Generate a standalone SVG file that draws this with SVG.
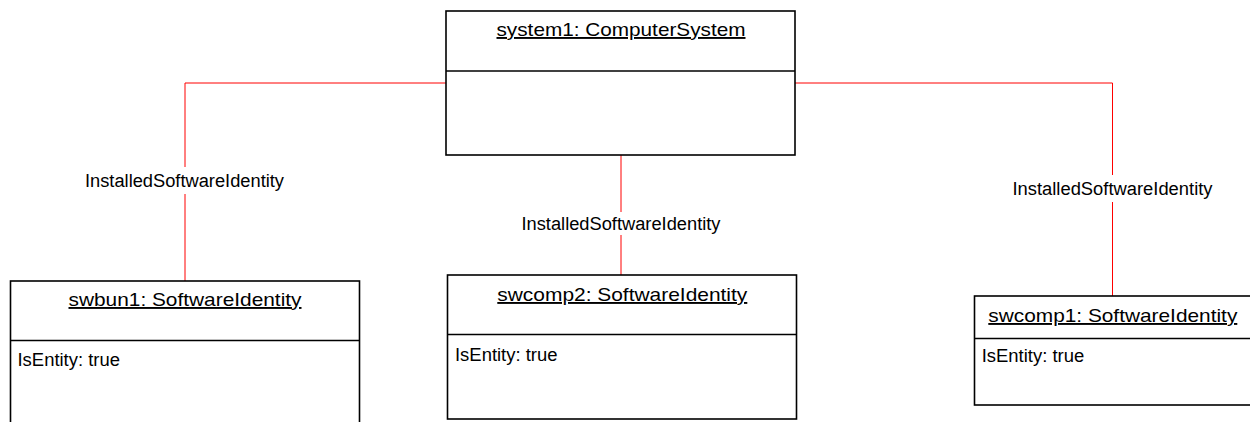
<svg xmlns="http://www.w3.org/2000/svg" width="1250" height="422" viewBox="0 0 1250 422">
<style>
.box{fill:#fff;stroke:#000;stroke-width:1.6}
.div{stroke:#000;stroke-width:1.6}
.title{font-family:"Liberation Sans",Arial,sans-serif;font-size:19px;text-decoration:underline;fill:#000}
.attr{font-family:"Liberation Sans",Arial,sans-serif;font-size:18px;fill:#000}
.conn{fill:none;stroke:#ff0000;stroke-width:1}
.lbl{font-family:"Liberation Sans",Arial,sans-serif;font-size:18px;fill:#000}
.bg{fill:#fff}
</style>
<rect width="1250" height="422" fill="#fff"/>
<g id="connectors">
<polyline class="conn" points="446,83 185,83 185,281"/>
<polyline class="conn" points="795,83 1112.5,83 1112.5,296"/>
<line class="conn" x1="621" y1="155" x2="621" y2="275"/>
<rect class="bg" x="84" y="167" width="201" height="27"/>
<text class="lbl" x="184.5" y="187" text-anchor="middle" textLength="199" lengthAdjust="spacingAndGlyphs">InstalledSoftwareIdentity</text>
<rect class="bg" x="521" y="212" width="201" height="23"/>
<text class="lbl" x="621" y="230" text-anchor="middle" textLength="199" lengthAdjust="spacingAndGlyphs">InstalledSoftwareIdentity</text>
<rect class="bg" x="1011" y="175" width="203" height="27"/>
<text class="lbl" x="1112.5" y="195" text-anchor="middle" textLength="200" lengthAdjust="spacingAndGlyphs">InstalledSoftwareIdentity</text>
</g>
<g id="system1">
<rect class="box" x="446" y="11" width="349" height="144"/>
<line class="div" x1="446" y1="71" x2="795" y2="71"/>
<text class="title" x="621" y="36" text-anchor="middle" textLength="249" lengthAdjust="spacingAndGlyphs">system1: ComputerSystem</text>
</g>
<g id="swbun1">
<rect class="box" x="10.5" y="281" width="349" height="160"/>
<line class="div" x1="10.5" y1="340.5" x2="359.5" y2="340.5"/>
<text class="title" x="185" y="306" text-anchor="middle" textLength="233" lengthAdjust="spacingAndGlyphs">swbun1: SoftwareIdentity</text>
<text class="attr" x="17.5" y="366" textLength="102.5" lengthAdjust="spacingAndGlyphs">IsEntity: true</text>
</g>
<g id="swcomp2">
<rect class="box" x="447.5" y="275" width="349" height="144"/>
<line class="div" x1="447.5" y1="334.5" x2="796.5" y2="334.5"/>
<text class="title" x="622.3" y="301" text-anchor="middle" textLength="250" lengthAdjust="spacingAndGlyphs">swcomp2: SoftwareIdentity</text>
<text class="attr" x="455" y="361" textLength="102.5" lengthAdjust="spacingAndGlyphs">IsEntity: true</text>
</g>
<g id="swcomp1">
<rect class="box" x="974.5" y="296" width="300" height="109"/>
<line class="div" x1="974.5" y1="338.5" x2="1260" y2="338.5"/>
<text class="title" x="1112.8" y="322" text-anchor="middle" textLength="249" lengthAdjust="spacingAndGlyphs">swcomp1: SoftwareIdentity</text>
<text class="attr" x="981.7" y="362" textLength="102.5" lengthAdjust="spacingAndGlyphs">IsEntity: true</text>
</g>
</svg>
